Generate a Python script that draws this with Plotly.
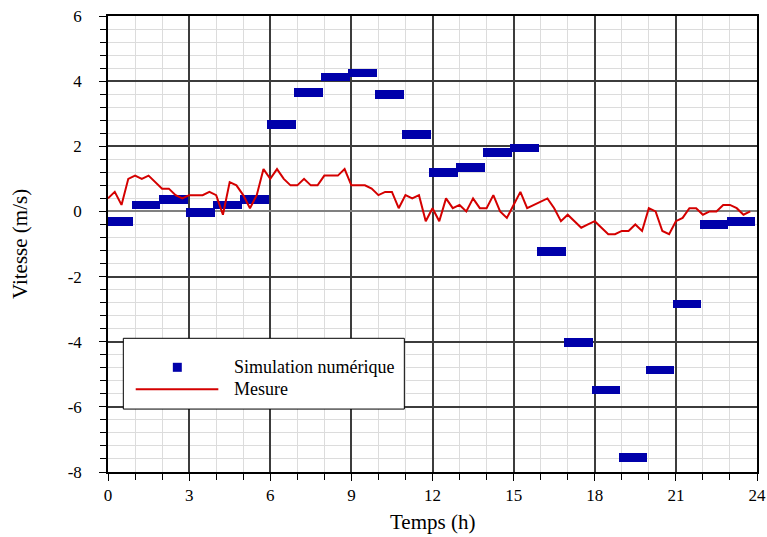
import numpy as np
import plotly.graph_objects as go

# Simulated hourly speed (one value per hour, 0h..23h)
sim_hours = list(range(24))
sim_speed = [-0.3, 0.2, 0.37, -0.03, 0.2, 0.37, 2.68, 3.65, 4.13, 4.25, 3.6, 2.35,
             1.2, 1.35, 1.8, 1.95, -1.22, -4.03, -5.48, -7.55, -4.87, -2.84, -0.4, -0.3]

# Measured speed every 15 minutes
mes_time = [i * 0.25 for i in range(96)]
mes_speed = [0.4, 0.6, 0.2, 1.0, 1.1, 1.0, 1.1, 0.9, 0.7, 0.7, 0.5, 0.4,
             0.5, 0.5, 0.5, 0.6, 0.5, -0.1, 0.9, 0.8, 0.5, 0.1, 0.5, 1.3,
             1.0, 1.3, 1.0, 0.8, 0.8, 1.0, 0.8, 0.8, 1.1, 1.1, 1.1, 1.3,
             0.8, 0.8, 0.8, 0.7, 0.5, 0.6, 0.6, 0.1, 0.5, 0.4, 0.5, -0.3,
             0.1, -0.3, 0.4, 0.1, 0.2, 0.0, 0.4, 0.1, 0.1, 0.5, 0.0, -0.2,
             0.2, 0.6, 0.1, 0.2, 0.3, 0.4, 0.1, -0.3, -0.1, -0.3, -0.5, -0.4,
             -0.3, -0.5, -0.7, -0.7, -0.6, -0.6, -0.4, -0.6, 0.1, 0.0, -0.6, -0.7,
             -0.3, -0.2, 0.1, 0.1, -0.1, 0.0, 0.0, 0.2, 0.2, 0.1, -0.1, 0.0]

x_ticks = [0, 3, 6, 9, 12, 15, 18, 21, 24]
x_ticktext = ["0", "3", "6", "9", "12", "15", "18", "21", "24"]
y_ticks = [-8, -6, -4, -2, 0, 2, 4, 6]
y_ticktext = ["-8", "-6", "-4", "-2", "0", "2", "4", "6"]

BLUE = "#0000AA"
RED = "#D40000"
FONT = "Liberation Serif"

bar_h = 0.27
fig = go.Figure()
fig.add_trace(go.Bar(
    x=np.array(sim_hours) + 0.41,
    y=[bar_h] * len(sim_speed),
    base=np.array(sim_speed) - bar_h / 2,
    width=1.06,
    marker=dict(color=BLUE, line=dict(width=0)),
    name="Simulation numérique",
    showlegend=False,
))
fig.add_trace(go.Scatter(
    x=mes_time, y=mes_speed, mode="lines",
    line=dict(color=RED, width=2),
    name="Mesure", showlegend=False,
))

grid_minor = "#DCDCDC"
grid_major = "#3C3C3C"

fig.update_xaxes(
    range=[0, 24], tickvals=x_ticks, ticktext=x_ticktext, automargin=False,
    ticks="outside", ticklen=7, tickwidth=1.2, tickcolor="black",
    showline=True, linecolor="black", linewidth=1.5, mirror=True,
    showgrid=True, gridcolor=grid_major, gridwidth=1.5, zeroline=False,
    minor=dict(dtick=1, tick0=0, ticks="outside", ticklen=6, tickcolor="black",
               showgrid=True, gridcolor=grid_minor, gridwidth=1.2),
    tickfont=dict(family=FONT, size=17, color="black"),
)
fig.update_yaxes(
    range=[-8, 6], tickvals=y_ticks, ticktext=y_ticktext, automargin=False,
    ticks="outside", ticklen=7, tickwidth=1.2, tickcolor="black", ticklabelstandoff=14,
    showline=True, linecolor="black", linewidth=1.5, mirror=True,
    showgrid=True, gridcolor=grid_major, gridwidth=1.5,
    zeroline=True, zerolinecolor="#808080", zerolinewidth=2,
    minor=dict(dtick=0.4, tick0=0, ticks="outside", ticklen=6, tickcolor="black",
               showgrid=True, gridcolor=grid_minor, gridwidth=1.2),
    tickfont=dict(family=FONT, size=17, color="black"),
)

# Boxed legend inside the plot area
legend_shapes = [
    dict(type="rect", xref="paper", yref="paper", x0=0.0236, x1=0.4566, y0=0.138, y1=0.2932,
         fillcolor="white", line=dict(color="black", width=1), layer="above"),
    dict(type="rect", xref="paper", yref="paper", x0=0.1068 - 0.0069, x1=0.1068 + 0.0069,
         y0=0.2296 - 0.0099, y1=0.2296 + 0.0099, fillcolor=BLUE, line=dict(width=0), layer="above"),
    dict(type="line", xref="paper", yref="paper", x0=0.0427, x1=0.170, y0=0.1814, y1=0.1814,
         line=dict(color=RED, width=2), layer="above"),
]
legend_labels = [
    dict(text="Simulation numérique", x=0.1906, y=0.2296),
    dict(text="Mesure", x=0.1906, y=0.1814),
]
annotations = [
    dict(text=a["text"], x=a["x"], y=a["y"], xref="paper", yref="paper",
         xanchor="left", yanchor="middle", showarrow=False,
         font=dict(family=FONT, size=18, color="black"))
    for a in legend_labels
]

# Axis titles
annotations += [
    dict(text="Temps (h)", x=0.5, y=-0.1096, xref="paper", yref="paper",
         xanchor="center", yanchor="middle", showarrow=False,
         font=dict(family=FONT, size=21, color="black")),
    dict(text="Vitesse (m/s)", x=-0.1356, y=0.5, xref="paper", yref="paper",
         xanchor="center", yanchor="middle", showarrow=False, textangle=-90,
         font=dict(family=FONT, size=21, color="black")),
]

fig.update_layout(
    width=767, height=537,
    margin=dict(l=108, r=10, t=16, b=65),
    plot_bgcolor="white", paper_bgcolor="white",
    barmode="overlay", bargap=0,
    shapes=legend_shapes, annotations=annotations,
    showlegend=False,
    font=dict(family=FONT, color="black"),
)

fig.write_html("out.html")
